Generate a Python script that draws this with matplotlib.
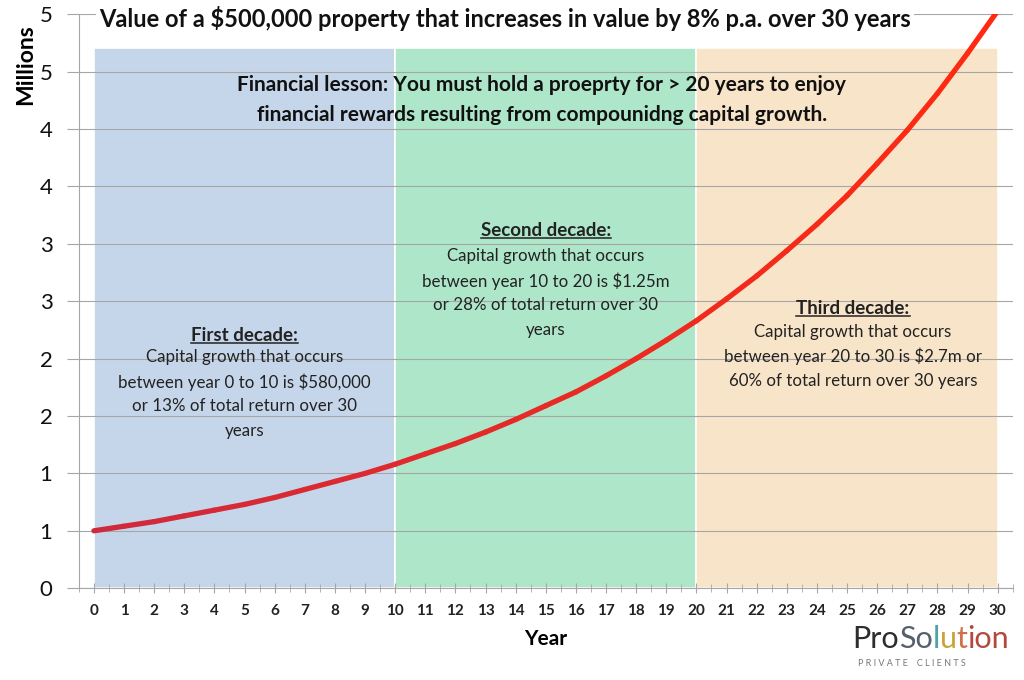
import numpy as np
import matplotlib.pyplot as plt
from matplotlib.collections import LineCollection
from matplotlib.colors import LinearSegmentedColormap
from matplotlib.lines import Line2D

plt.rcParams['font.family'] = ['Lato', 'DejaVu Sans']

# value of the property (millions), year 0..30
years = list(range(31))
value_m = [0.50, 0.54, 0.58, 0.63, 0.68, 0.73, 0.79, 0.86, 0.93, 1.00,
           1.08, 1.17, 1.26, 1.36, 1.47, 1.59, 1.71, 1.85, 2.00, 2.16,
           2.33, 2.52, 2.72, 2.94, 3.17, 3.42, 3.70, 3.99, 4.31, 4.66, 5.03]

decade_starts = [0, 10, 20]
decade_colors = ['#c6d6ea', '#aee6c9', '#f8e5c9']
shade_top = 4.71

yticks = [0, 0.5, 1.0, 1.5, 2.0, 2.5, 3.0, 3.5, 4.0, 4.5, 5.0]
ytick_labels = ['0', '1', '1', '2', '2', '3', '3', '4', '4', '5', '5']

title = 'Value of a $500,000 property that increases in value by 8% p.a. over 30 years'
lesson = ('Financial lesson: You must hold a proeprty for > 20 years to enjoy\n'
          'financial rewards resulting from compounidng capital growth.')
headers = ['First decade:', 'Second decade:', 'Third decade:']
bodies = [['Capital growth that occurs', 'between year 0 to 10 is $580,000',
           'or 13% of total return over 30', 'years'],
          ['Capital growth that occurs', 'between year 10 to 20 is $1.25m',
           'or 28% of total return over 30', 'years'],
          ['Capital growth that occurs', 'between year 20 to 30 is $2.7m or',
           '60% of total return over 30 years']]
text_x = [5.0, 15.0, 25.2]
header_y = [2.20, 3.12, 2.44]
body_y0 = [2.01, 2.89, 2.23]
line_step = 0.213

fig = plt.figure(figsize=(10.24, 6.8), dpi=100)
ax = fig.add_axes([0.077, 0.135, 0.912, 0.844])

ax.bar([s + 5 for s in decade_starts], shade_top, width=10, color=decade_colors,
       edgecolor='white', linewidth=1.2, zorder=1)

# red curve, darker at the start and brighter at the end
pts = np.column_stack([years, value_m]).reshape(-1, 1, 2)
segs = np.concatenate([pts[:-1], pts[1:]], axis=1)
cmap = LinearSegmentedColormap.from_list('curve', ['#cf2a3c', '#ff2a10'])
lc = LineCollection(segs, cmap=cmap, linewidth=3.8, capstyle='round', joinstyle='round', zorder=3)
lc.set_array(np.linspace(0, 1, len(segs)))
ax.add_collection(lc)

ax.set_xlim(-0.5, 30.5)
ax.set_ylim(0, 5)
ax.set_xticks(years)
ax.set_xticks(np.arange(-0.5, 30.6, 0.5), minor=True)
ax.set_yticks(yticks)
ax.set_yticklabels(ytick_labels)
ax.grid(axis='y', color='#a6a6a6', linewidth=0.8)

for s in ['top', 'right']:
    ax.spines[s].set_visible(False)
for s in ['left', 'bottom']:
    ax.spines[s].set_color('#a6a6a6')
ax.tick_params(axis='y', length=9, color='#a6a6a6', labelsize=16, pad=10, labelcolor='#111111')
ax.tick_params(axis='x', which='major', direction='inout', length=7, color='#a6a6a6',
               labelsize=11, pad=8, labelcolor='#222222')
ax.tick_params(axis='x', which='minor', direction='inout', length=6, color='#a6a6a6')
for lab in ax.get_xticklabels():
    lab.set_fontweight('bold')

ax.set_xlabel('Year', fontsize=15, fontweight='bold', labelpad=8)
fig.text(0.025, 0.905, 'Millions', rotation=90, fontsize=16.5, fontweight='bold',
         ha='center', va='center')

ax.text(13.65, 4.965, title, ha='center', va='center', fontsize=17, fontweight='bold',
        color='#111111', zorder=4,
        bbox=dict(boxstyle='square,pad=0.12', facecolor='white', edgecolor='none'))
ax.text(14.87, 4.25, lesson, ha='center', va='center', fontsize=15, fontweight='bold',
        color='#111111', linespacing=1.62, zorder=4)

header_artists = []
for x, hy, y0, h, lines in zip(text_x, header_y, body_y0, headers, bodies):
    t = ax.text(x, hy, h, ha='center', va='center', fontsize=13.5, fontweight='bold',
                color='#222222', zorder=4)
    header_artists.append(t)
    for i, line in enumerate(lines):
        ax.text(x, y0 - i * line_step, line, ha='center', va='center', fontsize=12.2,
                color='#222222', zorder=4)

# logo pieces laid out side by side
parts = [('Pro', '#2d2d2d'), ('So', '#56606c'), ('l', '#4fa4a0'), ('u', '#c9a43c'),
         ('t', '#d0704a'), ('ion', '#b4483e')]
logo = [fig.text(0, 0, w, fontsize=22, color=c) for w, c in parts]
fig.canvas.draw()
renderer = fig.canvas.get_renderer()
x0 = 0.832
for t in logo:
    t.set_position((x0, 0.047))
    x0 += t.get_window_extent(renderer).width / fig.bbox.width
fig.text(0.838, 0.020, 'P R I V A T E    C L I E N T S', fontsize=6.5, color='#777777')

fig.canvas.draw()
for t in header_artists:
    bb = t.get_window_extent(renderer)
    y = (bb.y0 + 1) / fig.bbox.height
    fig.add_artist(Line2D([bb.x0 / fig.bbox.width, bb.x1 / fig.bbox.width], [y, y],
                          color='#222222', linewidth=1.1))

fig.savefig('out.png', dpi=100, facecolor='white')
